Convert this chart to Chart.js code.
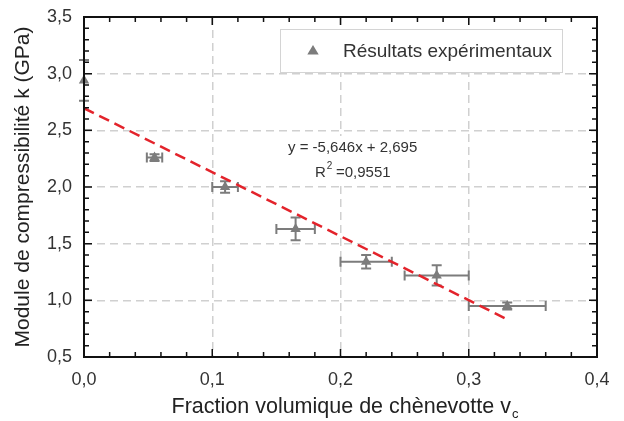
<!DOCTYPE html>
<html>
<head>
<meta charset="utf-8">
<script src="https://cdn.jsdelivr.net/npm/chart.js@4"></script>
<style>
  html, body { margin: 0; padding: 0; background: #fff; }
  #wrap { width: 624px; height: 421px; }
</style>
</head>
<body>
<div id="wrap"><canvas id="chart"></canvas></div>
<script>
// values
const fractionVc = [0, 0.055, 0.11, 0.165, 0.22, 0.275, 0.33];
const moduleK = [2.94, 2.26, 2.00, 1.63, 1.34, 1.22, 0.95];
const errVc = [0, 0.006, 0.01, 0.015, 0.02, 0.025, 0.03];
const errK = [0.18, 0.03, 0.05, 0.10, 0.06, 0.09, 0.03];

// linear fit, end points of the dashed red line
const fitVc = [0, 0.33];
const fitK = [2.695, 0.832];

const xTicks = [0, 0.1, 0.2, 0.3, 0.4];
const yTicks = [0.5, 1.0, 1.5, 2.0, 2.5, 3.0, 3.5];

const legendLabel = "Résultats expérimentaux";
const eqText = "y = -5,646x + 2,695";
const r2Text = "0,9551";
const xTitle = "Fraction volumique de chènevotte v";
const xTitleSub = "c";
const yTitle = "Module de compressibilité k (GPa)";

const FONT = "'Liberation Sans', Arial, sans-serif";
const GREY = "#7c7c7c";

function comma(v) {
  return v.toFixed(1).replace(".", ",");
}

function triangle(ctx, cx, cy, r) {
  ctx.beginPath();
  ctx.moveTo(cx, cy - r);
  ctx.lineTo(cx + r * 0.95, cy + r * 0.6);
  ctx.lineTo(cx - r * 0.95, cy + r * 0.6);
  ctx.closePath();
  ctx.fill();
}

// frame, inward ticks, error bars, legend box, equation
const decor = {
  id: "decor",
  beforeDatasetsDraw(chart) {
    const ctx = chart.ctx;
    const x = chart.scales.x, y = chart.scales.y;
    ctx.save();

    // white boxes behind legend and equation
    ctx.fillStyle = "#fff";
    ctx.fillRect(281, 30, 281, 42);
    ctx.strokeStyle = "#d4d4d4";
    ctx.lineWidth = 1;
    ctx.strokeRect(280.5, 29.5, 282, 43);
    ctx.fillRect(284, 136, 150, 48);

    // error bars
    ctx.strokeStyle = GREY;
    ctx.lineWidth = 2;
    fractionVc.forEach((v, i) => {
      const px = x.getPixelForValue(v);
      const py = y.getPixelForValue(moduleK[i]);
      if (errVc[i] > 0) {
        const x1 = x.getPixelForValue(v - errVc[i]);
        const x2 = x.getPixelForValue(v + errVc[i]);
        ctx.beginPath();
        ctx.moveTo(x1, py); ctx.lineTo(x2, py);
        ctx.moveTo(x1, py - 5); ctx.lineTo(x1, py + 5);
        ctx.moveTo(x2, py - 5); ctx.lineTo(x2, py + 5);
        ctx.stroke();
      }
      if (errK[i] > 0) {
        const y1 = y.getPixelForValue(moduleK[i] - errK[i]);
        const y2 = y.getPixelForValue(moduleK[i] + errK[i]);
        ctx.beginPath();
        ctx.moveTo(px, y1); ctx.lineTo(px, y2);
        ctx.moveTo(px - 5, y1); ctx.lineTo(px + 5, y1);
        ctx.moveTo(px - 5, y2); ctx.lineTo(px + 5, y2);
        ctx.stroke();
      }
    });
    ctx.restore();
  },
  afterDraw(chart) {
    const ctx = chart.ctx;
    const x = chart.scales.x, y = chart.scales.y;
    const a = chart.chartArea;
    ctx.save();

    // frame
    ctx.strokeStyle = "#111";
    ctx.lineWidth = 2;
    ctx.strokeRect(a.left, a.top, a.right - a.left, a.bottom - a.top);

    // inward ticks on all four sides
    ctx.lineWidth = 1.5;
    ctx.beginPath();
    for (let k = 0; k <= 20; k++) {
      const px = x.getPixelForValue(k * 0.02);
      const len = k % 5 === 0 ? 8 : 5;
      ctx.moveTo(px, a.bottom); ctx.lineTo(px, a.bottom - len);
      ctx.moveTo(px, a.top); ctx.lineTo(px, a.top + len);
    }
    for (let k = 5; k <= 35; k++) {
      const py = y.getPixelForValue(k * 0.1);
      const len = k % 5 === 0 ? 8 : 5;
      ctx.moveTo(a.left, py); ctx.lineTo(a.left + len, py);
      ctx.moveTo(a.right, py); ctx.lineTo(a.right - len, py);
    }
    ctx.stroke();

    // legend
    ctx.fillStyle = GREY;
    triangle(ctx, 313, 51, 6);
    ctx.fillStyle = "#333";
    ctx.textBaseline = "alphabetic";
    ctx.font = "19px " + FONT;
    ctx.fillText(legendLabel, 343, 57);

    // equation
    ctx.font = "15px " + FONT;
    ctx.fillText(eqText, 288, 152);
    ctx.fillText("R", 315, 177);
    const rw = ctx.measureText("R").width;
    ctx.font = "10px " + FONT;
    ctx.fillText("2", 315 + rw + 1, 169);
    ctx.font = "15px " + FONT;
    ctx.fillText(" =" + r2Text, 315 + rw + 6, 177);

    // x title with subscript
    ctx.font = "21.5px " + FONT;
    const w1 = ctx.measureText(xTitle).width;
    ctx.font = "13px " + FONT;
    const w2 = ctx.measureText(xTitleSub).width;
    const x0 = 345 - (w1 + w2 + 1) / 2;
    ctx.font = "21.5px " + FONT;
    ctx.fillStyle = "#222";
    ctx.fillText(xTitle, x0, 413);
    ctx.font = "13px " + FONT;
    ctx.fillText(xTitleSub, x0 + w1 + 1, 418);

    ctx.restore();
  }
};

const chart = new Chart(document.getElementById("chart"), {
  type: "scatter",
  data: {
    datasets: [
      {
        type: "line",
        data: fitVc.map((v, i) => ({ x: v, y: fitK[i] })),
        borderColor: "#e3232b",
        borderWidth: 2.5,
        borderDash: [11, 6],
        pointRadius: 0,
        fill: false
      },
      {
        data: fractionVc.map((v, i) => ({ x: v, y: moduleK[i] })),
        pointStyle: "triangle",
        pointRadius: 6,
        backgroundColor: GREY,
        borderColor: GREY,
        borderWidth: 0,
        clip: false
      }
    ]
  },
  options: {
    responsive: true,
    maintainAspectRatio: false,
    animation: false,
    layout: { padding: { top: 17, right: 27, left: 0, bottom: 0 } },
    plugins: { legend: { display: false }, tooltip: { enabled: false } },
    scales: {
      x: {
        type: "linear",
        min: xTicks[0],
        max: xTicks[xTicks.length - 1],
        afterBuildTicks: s => { s.ticks = xTicks.map(v => ({ value: v })); },
        afterFit: s => { s.height = 64; s.paddingLeft = 0; s.paddingRight = 0; },
        border: { display: false, dash: [8, 5] },
        grid: { color: "#d0d0d0", lineWidth: 1.5, drawTicks: false },
        ticks: {
          padding: 12,
          color: "#333",
          font: { family: FONT, size: 18 },
          callback: v => comma(v)
        }
      },
      y: {
        type: "linear",
        min: yTicks[0],
        max: yTicks[yTicks.length - 1],
        afterBuildTicks: s => { s.ticks = yTicks.map(v => ({ value: v })); },
        afterFit: s => { s.width = 84; s.paddingTop = 0; s.paddingBottom = 0; },
        border: { display: false, dash: [8, 5] },
        grid: { color: "#d0d0d0", lineWidth: 1.5, drawTicks: false },
        ticks: {
          padding: 12,
          color: "#333",
          font: { family: FONT, size: 18 },
          callback: v => comma(v)
        },
        title: {
          display: true,
          text: yTitle,
          color: "#222",
          font: { family: FONT, size: 21 },
          padding: { top: 11, bottom: 0 }
        }
      }
    }
  },
  plugins: [decor]
});
</script>
</body>
</html>
